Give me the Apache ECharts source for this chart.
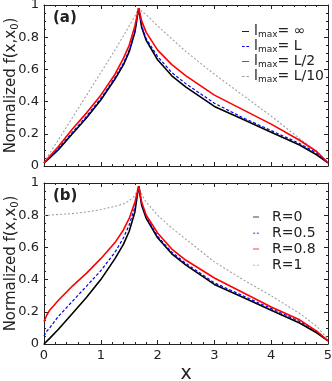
<!DOCTYPE html>
<html>
<head>
<meta charset="utf-8">
<title>Normalized f(x,x0)</title>
<script src="https://cdn.jsdelivr.net/npm/echarts@6/dist/echarts.min.js"></script>
<style>
  html, body { margin: 0; padding: 0; background: #fff; }
  #main { width: 332px; height: 381px; }
</style>
</head>
<body>
<div id="main"></div>
<script>
// x positions (shared by all curves), dense near the cusp at x0 = 5/3
var xs = [0, 0.05, 0.1, 0.25, 0.5, 0.75, 1, 1.25, 1.4, 1.5, 1.6, 1.667, 1.72, 1.8, 2, 2.25, 2.5, 3, 3.5, 4, 4.5, 4.8, 5];

// panel (a): l_max
var aInf = [0.02, 0.035, 0.05, 0.10, 0.20, 0.30, 0.41, 0.54, 0.63, 0.71, 0.83, 0.98, 0.86, 0.78, 0.66, 0.56, 0.49, 0.37, 0.29, 0.21, 0.13, 0.07, 0.02];
var aL   = [0.02, 0.035, 0.05, 0.11, 0.21, 0.31, 0.42, 0.55, 0.64, 0.72, 0.84, 0.98, 0.87, 0.79, 0.68, 0.58, 0.51, 0.39, 0.30, 0.22, 0.14, 0.08, 0.02];
var aL2  = [0.02, 0.04, 0.06, 0.12, 0.23, 0.33, 0.44, 0.57, 0.67, 0.75, 0.87, 0.98, 0.90, 0.83, 0.72, 0.63, 0.56, 0.44, 0.35, 0.26, 0.16, 0.09, 0.02];
var aL10 = [0.02, 0.05, 0.08, 0.16, 0.30, 0.44, 0.58, 0.72, 0.81, 0.87, 0.93, 0.98, 0.96, 0.94, 0.87, 0.79, 0.71, 0.57, 0.44, 0.31, 0.17, 0.09, 0.02];

// panel (b): R
var bR0  = [0.00, 0.018, 0.035, 0.09, 0.19, 0.29, 0.40, 0.53, 0.62, 0.70, 0.82, 0.98, 0.86, 0.78, 0.66, 0.56, 0.49, 0.37, 0.29, 0.21, 0.13, 0.07, 0.02];
var bR05 = [0.05, 0.08, 0.10, 0.17, 0.265, 0.36, 0.455, 0.57, 0.66, 0.74, 0.85, 0.98, 0.87, 0.79, 0.67, 0.57, 0.50, 0.38, 0.30, 0.22, 0.14, 0.08, 0.02];
var bR08 = [0.14, 0.18, 0.21, 0.27, 0.36, 0.44, 0.53, 0.63, 0.71, 0.78, 0.88, 0.98, 0.88, 0.80, 0.69, 0.59, 0.52, 0.41, 0.32, 0.23, 0.15, 0.08, 0.02];
var bR1  = [0.80, 0.80, 0.80, 0.805, 0.81, 0.82, 0.835, 0.855, 0.87, 0.89, 0.92, 0.98, 0.93, 0.88, 0.80, 0.72, 0.65, 0.51, 0.40, 0.30, 0.19, 0.11, 0.03];

var namesA = ['∞', 'L', 'L/2', 'L/10'];
var namesB = ['R=0', 'R=0.5', 'R=0.8', 'R=1'];
var xTicks = ['0', '1', '2', '3', '4', '5'];

var FONT = 'DejaVu Sans';
var styles = [
  { color: '#000000', width: 1.6, type: 'solid' },
  { color: '#0000ee', width: 1.2, type: [3, 2] },
  { color: '#ff0000', width: 1.6, type: 'solid' },
  { color: '#a0a0a0', width: 1.1, type: [2, 2] }
];
var SOLID = 'path://M0,0h8v1h-8z';
var DASH = 'path://M0,0h3v1h-3zM5,0h3v1h-3z';
var icons = [SOLID, DASH, SOLID, DASH];

function pairs(ys) {
  return xs.map(function (x, i) { return [x, ys[i]]; });
}

function mkSeries(name, ys, k, axis) {
  return {
    name: name, type: 'line', data: pairs(ys), showSymbol: false, symbol: 'none',
    xAxisIndex: axis, yAxisIndex: axis,
    lineStyle: styles[k], itemStyle: { color: styles[k].color },
    animation: false
  };
}

function xAx(grid, pos, labels, name) {
  return {
    type: 'value', gridIndex: grid, position: pos, min: 0, max: 5, interval: 1,
    axisLine: { show: true, onZero: false, lineStyle: { color: '#222', width: 1 } },
    axisTick: { show: true, inside: true, length: 4, lineStyle: { color: '#222' } },
    minorTick: { show: true, splitNumber: 5, length: 2, lineStyle: { color: '#222' } },
    splitLine: { show: false },
    axisLabel: { show: labels, color: '#222', fontSize: 13, fontFamily: FONT, margin: 5,
      formatter: function (v) { return xTicks[Math.round(v)]; } },
    name: name, nameLocation: 'middle', nameGap: 21, nameMoveOverlap: false,
    nameTextStyle: { fontSize: 19, fontFamily: FONT, color: '#222' }
  };
}

function yAx(grid, pos, labels) {
  return {
    type: 'value', gridIndex: grid, position: pos, min: 0, max: 1, interval: 0.2,
    axisLine: { show: true, onZero: false, lineStyle: { color: '#222', width: 1 } },
    axisTick: { show: true, inside: true, length: 4, lineStyle: { color: '#222' } },
    minorTick: { show: true, splitNumber: 4, length: 2, lineStyle: { color: '#222' } },
    splitLine: { show: false },
    axisLabel: { show: labels, color: '#222', fontSize: 13, fontFamily: FONT, margin: 5,
      formatter: function (v) { return v === 0 || v === 1 ? String(v) : v.toFixed(1); } },
    name: labels ? '{n|Normalized f(x,x}{s|0}{n|)}' : '', nameLocation: 'middle', nameGap: 24,
    nameMoveOverlap: false,
    nameTextStyle: {
      rich: {
        n: { fontSize: 15, fontFamily: FONT, color: '#222', lineHeight: 18 },
        s: { fontSize: 10, fontFamily: FONT, color: '#222', lineHeight: 18, verticalAlign: 'bottom', padding: [6, 0, 0, 0] }
      }
    }
  };
}

var chart = echarts.init(document.getElementById('main'), null, { renderer: 'canvas' });

var legendRich = {
  i: { fontSize: 14, fontFamily: FONT, color: '#222', lineHeight: 16 },
  s: { fontSize: 9, fontFamily: FONT, color: '#222', lineHeight: 16, padding: [6, 0, 0, 0] }
};

function legendData(names) {
  return names.map(function (n, k) {
    return { name: n, icon: icons[k], itemStyle: { color: styles[k].color, borderWidth: 0 } };
  });
}

chart.setOption({
  backgroundColor: '#fff',
  animation: false,
  title: [
    { text: '(a)', left: 53, top: 11, padding: 0, textStyle: { fontSize: 15, fontWeight: 'bold', fontFamily: FONT, color: '#222' } },
    { text: '(b)', left: 53, top: 189, padding: 0, textStyle: { fontSize: 15, fontWeight: 'bold', fontFamily: FONT, color: '#222' } }
  ],
  grid: [
    { left: 44, top: 5, width: 284, height: 161, outerBoundsMode: 'none', containLabel: false },
    { left: 44, top: 183, width: 284, height: 161, outerBoundsMode: 'none', containLabel: false }
  ],
  xAxis: [xAx(0, 'bottom', false, ''), xAx(0, 'top', false, ''), xAx(1, 'bottom', true, 'x'), xAx(1, 'top', false, '')],
  yAxis: [yAx(0, 'left', true), yAx(0, 'right', false), yAx(1, 'left', true), yAx(1, 'right', false)],
  legend: [
    {
      data: legendData(namesA), orient: 'vertical', left: 242, top: 24, padding: 0, itemGap: 0, itemWidth: 7, itemHeight: 2,
      formatter: function (n) { return '{i|l}{s|max}{i|= ' + n + '}'; },
      textStyle: { rich: legendRich }
    },
    {
      data: legendData(namesB), orient: 'vertical', left: 253, top: 209, padding: 0, itemGap: 0, itemWidth: 6, itemHeight: 2,
      textStyle: { fontSize: 14, fontFamily: FONT, color: '#222', lineHeight: 16, padding: [0, 0, 0, 8] }
    }
  ],
  series: [
    mkSeries(namesA[3], aL10, 3, 0),
    mkSeries(namesA[0], aInf, 0, 0),
    mkSeries(namesA[1], aL, 1, 0),
    mkSeries(namesA[2], aL2, 2, 0),
    mkSeries(namesB[3], bR1, 3, 2),
    mkSeries(namesB[0], bR0, 0, 2),
    mkSeries(namesB[1], bR05, 1, 2),
    mkSeries(namesB[2], bR08, 2, 2)
  ]
});
</script>
</body>
</html>
